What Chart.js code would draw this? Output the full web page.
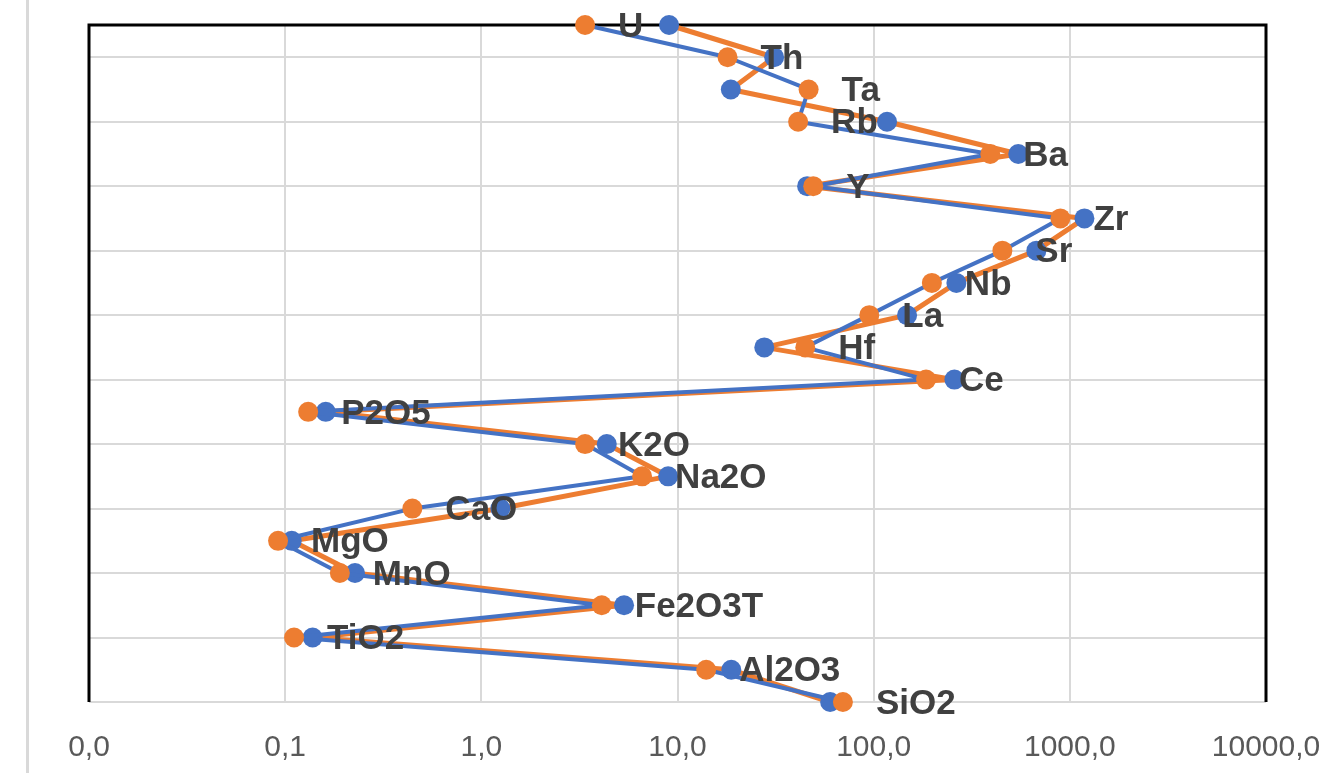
<!DOCTYPE html>
<html>
    <head>
        <script src="https://cdn.jsdelivr.net/npm/chart.js@4.4.1/dist/chart.umd.min.js"></script>
        <style>
            body { margin: 0; background: #fff; }
            #wrap { position: relative; width: 1328px; height: 773px; }
            #edge { position: absolute; left: 26px; top: 0; width: 3px; height: 773px; background: #d9d9d9; }
            #myChart { position: absolute; left: 0; top: 0; }
        </style>
    </head>
    <body>
        <div id="wrap">
            <div id="edge"></div>
            <canvas id="myChart" width="1328" height="773"></canvas>
        </div>
        <script>
            // categories from bottom (y = 0) to top (y = 21)
            var categories = ['SiO2','Al2O3','TiO2','Fe2O3T','MnO','MgO','CaO','Na2O','K2O','P2O5','Ce','Hf','La','Nb','Sr','Zr','Y','Ba','Rb','Ta','Th','U'];

            // series drawn with orange markers (blue line), labels sit on these
            var orangeVals = [69.7, 14.0, 0.111, 4.11, 0.190, 0.092, 0.445, 6.6, 3.38, 0.131, 185, 44.8, 95, 198, 453, 895, 49.2, 393, 41.2, 46.6, 18.0, 3.38];
            // series drawn with blue markers (orange line)
            var blueVals = [60.0, 18.8, 0.138, 5.34, 0.227, 0.108, 1.25, 8.96, 4.36, 0.161, 258, 27.7, 148, 264, 675, 1187, 45.8, 546, 117, 18.7, 31.1, 9.06];

            var xTicks = [0.01, 0.1, 1, 10, 100, 1000, 10000];

            function toPoints(vals)
            {
                var pts = [];
                for(var i=0;i<vals.length;i++)
                    pts.push({x: vals[i], y: i});
                return pts;
            }

            var boxPlugin = {
                id: 'box',
                beforeDatasetsDraw: function(chart){
                    var c = chart.ctx, a = chart.chartArea;
                    c.save();
                    c.strokeStyle = '#000';
                    c.lineWidth = 3;
                    c.beginPath();
                    c.moveTo(a.left, a.bottom);
                    c.lineTo(a.left, a.top);
                    c.lineTo(a.right, a.top);
                    c.lineTo(a.right, a.bottom);
                    c.stroke();
                    c.restore();
                },
                afterDatasetsDraw: function(chart){
                    var c = chart.ctx;
                    c.save();
                    // data labels, right of the orange markers
                    var meta = chart.getDatasetMeta(0);
                    c.fillStyle = '#404040';
                    c.font = 'bold 35px "Liberation Sans", Arial, sans-serif';
                    c.textAlign = 'left';
                    c.textBaseline = 'middle';
                    for(var i=0;i<meta.data.length;i++)
                    {
                        var p = meta.data[i];
                        c.fillText(categories[i], p.x + 33, p.y + 2);
                    }
                    c.restore();
                }
            };

            var ctx = document.getElementById("myChart");
            var myChart = new Chart(ctx, {
                type: 'scatter',
                data: {
                    datasets: [
                    {
                        label: 'A',
                        data: toPoints(orangeVals),
                        showLine: true,
                        clip: false,
                        borderColor: '#4472C4',
                        borderWidth: 4,
                        borderJoinStyle: 'round',
                        pointBackgroundColor: '#ED7D31',
                        pointBorderColor: '#ED7D31',
                        pointBorderWidth: 0,
                        pointRadius: 10
                    },
                    {
                        label: 'B',
                        data: toPoints(blueVals),
                        showLine: true,
                        clip: false,
                        borderColor: '#ED7D31',
                        borderWidth: 5,
                        borderJoinStyle: 'round',
                        pointBackgroundColor: '#4472C4',
                        pointBorderColor: '#4472C4',
                        pointBorderWidth: 0,
                        pointRadius: 10
                    }
                    ]
                },
                options: {
                    responsive: false,
                    animation: false,
                    layout: { padding: { left: 89, right: 62, top: 25, bottom: 0 } },
                    plugins: {
                        legend: { display: false },
                        tooltip: { enabled: false }
                    },
                    scales: {
                        x: {
                            type: 'logarithmic',
                            min: 0.01,
                            max: 10000,
                            afterBuildTicks: function(scale){
                                scale.ticks = xTicks.map(function(v){ return {value: v}; });
                            },
                            afterFit: function(scale){
                                scale.height = 71;
                                scale.paddingLeft = 0;
                                scale.paddingRight = 0;
                            },
                            grid: { color: '#d9d9d9', lineWidth: 2, drawTicks: false },
                            border: { display: false },
                            ticks: {
                                autoSkip: false,
                                maxRotation: 0,
                                padding: 28,
                                color: '#595959',
                                font: { family: '"Liberation Sans", Arial, sans-serif', size: 30 },
                                callback: function(v){ return Number(v).toFixed(1).replace('.', ','); }
                            }
                        },
                        y: {
                            min: 0,
                            max: 21,
                            afterFit: function(scale){ scale.width = 0; },
                            grid: { color: '#d9d9d9', lineWidth: 2, drawTicks: false },
                            border: { display: false },
                            ticks: { stepSize: 2, display: false }
                        }
                    }
                },
                plugins: [boxPlugin]
            });
        </script>
    </body>
</html>
